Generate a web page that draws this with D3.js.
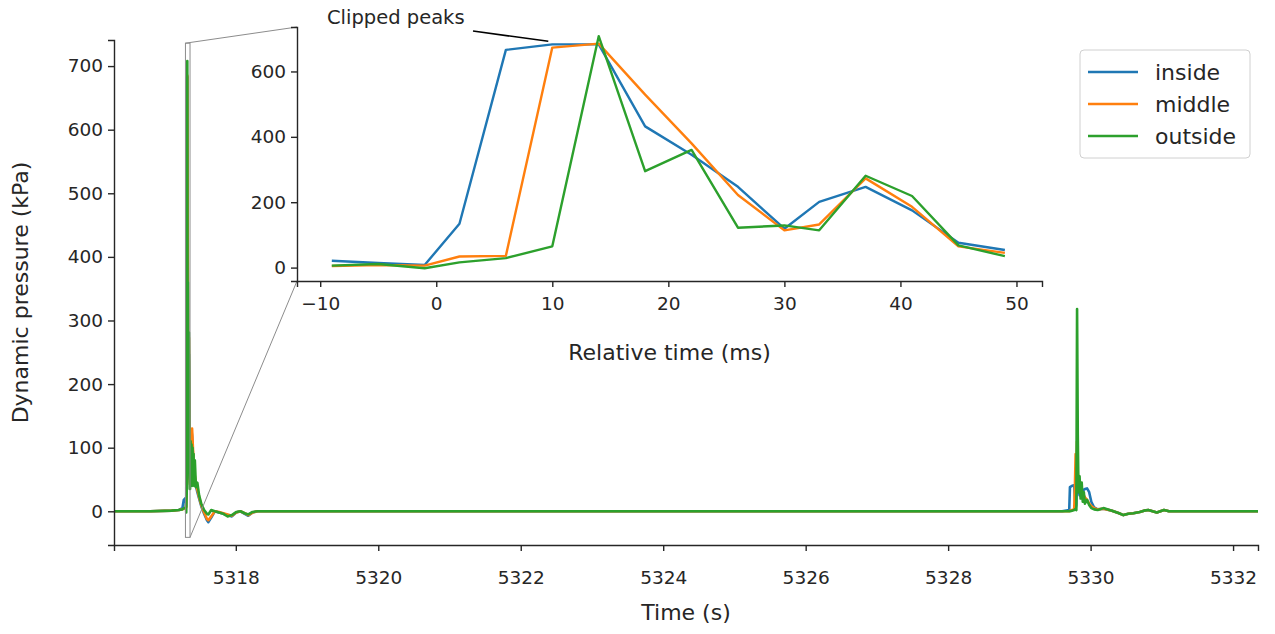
<!DOCTYPE html>
<html>
<head>
<meta charset="utf-8">
<script src="https://cdn.jsdelivr.net/npm/d3@7.9.0/dist/d3.min.js"></script>
<style>
  body { margin: 0; background: #fff; }
  svg { display: block; font-family: "DejaVu Sans", sans-serif; }
  .axis text { fill: #262626; }
  .axis path, .axis line { stroke: #262626; }
</style>
</head>
<body>
<svg id="chart" width="1275" height="634"></svg>
<script>
// ---------- data ----------
const seriesNames = ["inside", "middle", "outside"];
const colors = ["#1f77b4", "#ff7f0e", "#2ca02c"];

// zoomed window around the first peak (ms relative to t0)
const relTime = [-9, -5, -1, 2, 6, 10, 14, 18, 22, 26, 30, 33, 37, 41, 45, 49];
const relInside = [21, 14, 8, 134, 666, 683, 683, 432, 345, 247, 119, 201, 247, 175, 76, 54];
const relMiddle = [5, 8, 6, 34, 36, 673, 685, 529, 380, 222, 114, 132, 273, 186, 65, 45];
const relOutside = [6, 11, -2, 16, 29, 65, 708, 295, 360, 122, 129, 114, 281, 219, 68, 35];

const t0 = 5317.305; // s, start of relative time

// before first event (s)
const preTime = [5316.29, 5316.8, 5317.1, 5317.2, 5317.25, 5317.27];
const preInside = [0, 0, 1, 2, 5, 18];
const preMiddle = [0, 0, 1, 2, 3, 4];
const preOutside = [0, 0, 1, 2, 3, 5];

// ringing after first event (s after t0)
const tailRel = [0.053, 0.060, 0.067, 0.074, 0.081, 0.088, 0.095, 0.102, 0.110, 0.120, 0.135, 0.155, 0.18, 0.21, 0.25, 0.29, 0.31, 0.35, 0.40, 0.46, 0.52, 0.58, 0.64, 0.70, 0.76, 0.82, 0.87, 0.93, 1.00, 1.10];
const tailInside = [50, 80, 110, 126, 118, 100, 88, 70, 60, 50, 40, 30, 20, 8, -4, -14, -17, -10, 0, -2, -4, -6, -8, -2, 0, -4, -7, -2, 0, 0];
const tailMiddle = [42, 70, 105, 120, 130, 112, 95, 80, 66, 55, 44, 34, 22, 10, -2, -12, -14, -8, 0, -1, -3, -5, -7, -2, 0, -3, -6, -2, 0, 0];
const tailOutside = [35, 110, 45, 105, 40, 100, 42, 90, 40, 80, 38, 45, 25, 12, 2, -4, -5, 2, 0, -2, -4, -8, -6, -1, 0, -3, -5, -1, 0, 0];

// quiet period
const midTime = [5318.6, 5320, 5322, 5324, 5326, 5328, 5329.6];
const midInside = [0, 0, 0, 0, 0, 0, 0];
const midMiddle = [0, 0, 0, 0, 0, 0, 0];
const midOutside = [0, 0, 0, 0, 0, 0, 0];

// second event (s)
const ev2Time = [5329.70, 5329.71, 5329.74, 5329.77, 5329.78, 5329.79, 5329.80, 5329.81, 5329.82, 5329.83, 5329.845, 5329.86, 5329.875, 5329.89, 5329.905, 5329.92, 5329.95, 5329.98, 5330.01, 5330.05, 5330.10, 5330.18, 5330.30, 5330.40, 5330.46, 5330.53, 5330.60, 5330.69, 5330.75, 5330.81, 5330.87, 5330.93, 5330.98, 5331.03, 5331.10, 5331.25];
const ev2Inside = [2, 38, 40, 41, 20, 5, 10, 60, 30, 38, 25, 32, 28, 30, 34, 35, 36, 30, 15, 6, 3, 4, 1, -3, -6, -4, -3, -1, 1, 2, 0, -2, 0, 2, 0, 0];
const ev2Middle = [0, 1, 2, 3, 40, 90, 70, 110, 60, 50, 35, 40, 30, 28, 25, 22, 18, 12, 8, 5, 3, 4, 1, -3, -6, -4, -3, -1, 1, 2, 0, -2, 0, 2, 0, 0];
const ev2Outside = [0, 0, 1, 2, 3, 4, 2, 318, 120, 30, 55, 20, 45, 15, 30, 12, 18, 10, 5, 3, 2, 5, 1, -3, -6, -4, -3, -1, 1, 2, 0, -2, 0, 2, 0, 0];

const endTime = [5331.6, 5332.0, 5332.35];
const endValues = [0, 0, 0];

const mainXTicks = [5318, 5320, 5322, 5324, 5326, 5328, 5330, 5332];
const mainYTicks = [0, 100, 200, 300, 400, 500, 600, 700];
const insetXTicks = [-10, 0, 10, 20, 30, 40, 50];
const insetYTicks = [0, 200, 400, 600];

// ---------- build series ----------
const zip = (ts, vs) => ts.map((t, i) => [t, vs[i]]);
const relValues = [relInside, relMiddle, relOutside];
const preValues = [preInside, preMiddle, preOutside];
const tailValues = [tailInside, tailMiddle, tailOutside];
const midValues = [midInside, midMiddle, midOutside];
const ev2Values = [ev2Inside, ev2Middle, ev2Outside];

const mainSeries = seriesNames.map((name, k) => ({
  name,
  color: colors[k],
  points: [
    ...zip(preTime, preValues[k]),
    ...zip(relTime.map(ms => t0 + ms / 1000), relValues[k]),
    ...zip(tailRel.map(s => t0 + s), tailValues[k]),
    ...zip(midTime, midValues[k]),
    ...zip(ev2Time, ev2Values[k]),
    ...zip(endTime, endValues)
  ]
}));

const insetSeries = seriesNames.map((name, k) => ({
  name, color: colors[k], points: zip(relTime, relValues[k])
}));

// ---------- layout ----------
const svg = d3.select("#chart");
const main = { left: 114, right: 1258, top: 40, bottom: 545 };
const inset = { left: 297, right: 1042, top: 27, bottom: 281 };

const x = d3.scaleLinear().domain([5316.29, 5332.35]).range([main.left, main.right]);
const y = d3.scaleLinear().domain([-53, 741]).range([main.bottom, main.top]);

const xi = d3.scaleLinear().domain([-12, 52.2]).range([inset.left, inset.right]);
const yi = d3.scaleLinear().domain([-41, 736]).range([inset.bottom, inset.top]);

svg.append("clipPath").attr("id", "clipMain")
  .append("rect")
  .attr("x", main.left).attr("y", main.top)
  .attr("width", main.right - main.left).attr("height", main.bottom - main.top);

// main lines
const line = d3.line().x(d => x(d[0])).y(d => y(d[1]));
svg.append("g").attr("clip-path", "url(#clipMain)")
  .selectAll("path")
  .data(mainSeries)
  .join("path")
  .attr("d", d => line(d.points))
  .attr("fill", "none")
  .attr("stroke", d => d.color)
  .attr("stroke-width", 2.6)
  .attr("stroke-linejoin", "round");

// main axes
const tickFont = 18.5;
const labelFont = 22;

const gx = svg.append("g").attr("class", "axis")
  .attr("transform", `translate(0,${main.bottom})`)
  .call(d3.axisBottom(x).tickValues(mainXTicks).tickFormat(d3.format("d")).tickSizeOuter(0).tickSize(6).tickPadding(20));
const gy = svg.append("g").attr("class", "axis")
  .attr("transform", `translate(${main.left},0)`)
  .call(d3.axisLeft(y).tickValues(mainYTicks).tickFormat(d3.format("d")).tickSizeOuter(0).tickSize(6).tickPadding(5));
[gx, gy].forEach(g => {
  g.selectAll("text").attr("font-size", tickFont).attr("font-family", "DejaVu Sans");
  g.select(".domain").attr("stroke-width", 1.4);
  g.selectAll(".tick line").attr("stroke-width", 1.4);
});

svg.append("text")
  .attr("x", (main.left + main.right) / 2).attr("y", 620)
  .attr("text-anchor", "middle").attr("font-size", labelFont).attr("fill", "#262626")
  .text("Time (s)");
svg.append("text")
  .attr("transform", `translate(28,${(main.top + main.bottom) / 2}) rotate(-90)`)
  .attr("text-anchor", "middle").attr("font-size", labelFont).attr("fill", "#262626")
  .text("Dynamic pressure (kPa)");

// zoom indicator rectangle + connectors
const rx0 = x(t0 + xi.domain()[0] / 1000), rx1 = x(t0 + xi.domain()[1] / 1000);
const ry0 = y(yi.domain()[1]), ry1 = y(yi.domain()[0]);
svg.append("rect")
  .attr("x", rx0).attr("y", ry0).attr("width", rx1 - rx0).attr("height", ry1 - ry0)
  .attr("fill", "none").attr("stroke", "#8c8c8c").attr("stroke-width", 1);
svg.append("line")
  .attr("x1", rx0).attr("y1", ry0).attr("x2", inset.left).attr("y2", inset.top)
  .attr("stroke", "#8c8c8c").attr("stroke-width", 1);
svg.append("line")
  .attr("x1", rx1).attr("y1", ry1).attr("x2", inset.left).attr("y2", inset.bottom)
  .attr("stroke", "#8c8c8c").attr("stroke-width", 1);

// inset
const insetG = svg.append("g");
insetG.append("rect")
  .attr("x", inset.left).attr("y", inset.top)
  .attr("width", inset.right - inset.left).attr("height", inset.bottom - inset.top)
  .attr("fill", "#fff");

const lineI = d3.line().x(d => xi(d[0])).y(d => yi(d[1]));
insetG.selectAll("path.series")
  .data(insetSeries)
  .join("path")
  .attr("class", "series")
  .attr("d", d => lineI(d.points))
  .attr("fill", "none")
  .attr("stroke", d => d.color)
  .attr("stroke-width", 2.4)
  .attr("stroke-linejoin", "round");

const gxi = insetG.append("g").attr("class", "axis")
  .attr("transform", `translate(0,${inset.bottom})`)
  .call(d3.axisBottom(xi).tickValues(insetXTicks).tickSizeOuter(0).tickSize(6).tickPadding(10));
const gyi = insetG.append("g").attr("class", "axis")
  .attr("transform", `translate(${inset.left},0)`)
  .call(d3.axisLeft(yi).tickValues(insetYTicks).tickSizeOuter(0).tickSize(6).tickPadding(5));
[gxi, gyi].forEach(g => {
  g.selectAll("text").attr("font-size", tickFont).attr("font-family", "DejaVu Sans");
  g.select(".domain").attr("stroke-width", 1.4);
  g.selectAll(".tick line").attr("stroke-width", 1.4);
});

insetG.append("text")
  .attr("x", (inset.left + inset.right) / 2).attr("y", 360)
  .attr("text-anchor", "middle").attr("font-size", labelFont).attr("fill", "#262626")
  .text("Relative time (ms)");

// annotation
svg.append("line")
  .attr("x1", 473).attr("y1", 31).attr("x2", xi(10) - 4).attr("y2", yi(683) - 3)
  .attr("stroke", "#000").attr("stroke-width", 1.6);
svg.append("text")
  .attr("x", 327).attr("y", 24)
  .attr("font-size", 19.5).attr("fill", "#262626")
  .text("Clipped peaks");

// legend
const leg = svg.append("g").attr("transform", "translate(1080,50)");
leg.append("rect")
  .attr("width", 170).attr("height", 108).attr("rx", 4)
  .attr("fill", "#fff").attr("stroke", "#d0d0d0");
const items = leg.selectAll("g.item")
  .data(seriesNames)
  .join("g")
  .attr("class", "item")
  .attr("transform", (d, i) => `translate(0,${22 + i * 32})`);
items.append("line")
  .attr("x1", 8).attr("x2", 58)
  .attr("stroke", (d, i) => colors[i]).attr("stroke-width", 2.6);
items.append("text")
  .attr("x", 75).attr("dy", "0.35em")
  .attr("font-size", labelFont).attr("fill", "#262626")
  .text(d => d);
</script>
</body>
</html>
